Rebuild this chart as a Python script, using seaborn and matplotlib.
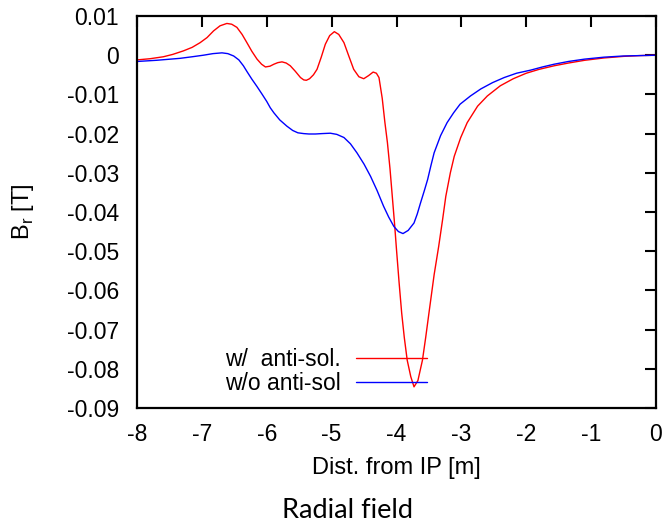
import matplotlib
matplotlib.use("Agg")
import matplotlib.pyplot as plt
import seaborn as sns
import pandas as pd

# ---- data ----
x_red = [-8.0, -7.8, -7.594, -7.45, -7.285, -7.15, -7.027, -6.92, -6.82, -6.72,
         -6.615, -6.54, -6.46, -6.38, -6.306, -6.23, -6.15, -6.08, -6.02, -5.95,
         -5.89, -5.83, -5.765, -5.70, -5.637, -5.56, -5.48, -5.43, -5.39, -5.34,
         -5.28, -5.225, -5.16, -5.097, -5.03, -4.958, -4.89, -4.81, -4.74, -4.66,
         -4.58, -4.505, -4.43, -4.36, -4.31, -4.27, -4.22, -4.18, -4.14, -4.10,
         -4.07, -4.03, -4.00, -3.96, -3.92, -3.88, -3.835, -3.78, -3.73, -3.67,
         -3.60, -3.55, -3.50, -3.42, -3.35, -3.29, -3.24, -3.17, -3.11, -3.01,
         -2.91, -2.75, -2.60, -2.40, -2.20, -2.00, -1.80, -1.57, -1.35, -1.10,
         -0.80, -0.50, -0.25, 0.0]
y_red = [-0.0012, -0.0009, -0.0004, 0.0002, 0.0011, 0.0020, 0.0032, 0.0045, 0.0062,
         0.0075, 0.0081, 0.0079, 0.0071, 0.0053, 0.0032, 0.0010, -0.0010, -0.0023,
         -0.0030, -0.0028, -0.0023, -0.0019, -0.0017, -0.0020, -0.0027, -0.0041,
         -0.0057, -0.0063, -0.0064, -0.0060, -0.0050, -0.0036, -0.0005, 0.0028,
         0.0050, 0.0060, 0.0053, 0.0032, 0.0000, -0.0036, -0.0055, -0.0060, -0.0052,
         -0.0043, -0.0046, -0.0057, -0.0110, -0.0170, -0.0223, -0.0290, -0.0350,
         -0.0430, -0.0496, -0.0580, -0.0658, -0.0720, -0.0778, -0.0820, -0.0846,
         -0.0830, -0.0778, -0.0720, -0.0658, -0.0560, -0.0488, -0.0420, -0.0360,
         -0.0300, -0.0258, -0.0210, -0.0172, -0.0130, -0.0104, -0.0078, -0.0060,
         -0.0046, -0.0036, -0.0027, -0.0020, -0.0013, -0.0007, -0.0003, -0.0001, 0.0]

x_blue = [-8.0, -7.7, -7.336, -7.15, -6.975, -6.83, -6.69, -6.60, -6.51, -6.43,
          -6.36, -6.30, -6.23, -6.15, -6.07, -6.00, -5.946, -5.89, -5.80, -5.69,
          -5.60, -5.52, -5.43, -5.35, -5.25, -5.15, -5.02, -4.92, -4.81, -4.71,
          -4.61, -4.50, -4.40, -4.30, -4.20, -4.12, -4.04, -3.97, -3.90, -3.82,
          -3.73, -3.68, -3.63, -3.57, -3.52, -3.47, -3.42, -3.32, -3.22, -3.12,
          -3.02, -2.86, -2.70, -2.52, -2.34, -2.15, -1.93, -1.75, -1.57, -1.35,
          -1.10, -0.80, -0.50, -0.25, 0.0]
y_blue = [-0.0016, -0.0013, -0.0008, -0.0004, 0.0000, 0.0004, 0.0006, 0.0004,
          -0.0002, -0.0012, -0.0027, -0.0043, -0.0061, -0.0080, -0.0100, -0.0118,
          -0.0134, -0.0147, -0.0165, -0.0181, -0.0192, -0.0198, -0.0200, -0.0201,
          -0.0201, -0.0200, -0.0199, -0.0202, -0.0210, -0.0226, -0.0249, -0.0278,
          -0.0309, -0.0345, -0.0385, -0.0413, -0.0437, -0.0450, -0.0455, -0.0447,
          -0.0428, -0.0405, -0.0377, -0.0345, -0.0317, -0.0282, -0.0249, -0.0205,
          -0.0172, -0.0147, -0.0125, -0.0104, -0.0086, -0.0070, -0.0057, -0.0046,
          -0.0038, -0.0030, -0.0023, -0.0016, -0.0010, -0.0005, -0.0002, -0.0001, 0.0]

labels = ["w/  anti-sol.", "w/o anti-sol"]
x_ticks = [-8, -7, -6, -5, -4, -3, -2, -1, 0]
y_ticks = [0.01, 0, -0.01, -0.02, -0.03, -0.04, -0.05, -0.06, -0.07, -0.08, -0.09]
y_tick_labels = ["0.01", "0", "-0.01", "-0.02", "-0.03", "-0.04", "-0.05",
                 "-0.06", "-0.07", "-0.08", "-0.09"]
x_tick_labels = ["-8", "-7", "-6", "-5", "-4", "-3", "-2", "-1", "0"]

# ---- plotting ----
sns.set_theme(style="white")
plt.rcParams["font.family"] = ["Liberation Sans", "DejaVu Sans"]
plt.rcParams["axes.unicode_minus"] = False
plt.rcParams["text.color"] = "black"
plt.rcParams["axes.labelcolor"] = "black"

fig = plt.figure(figsize=(6.62, 5.24), dpi=100)
ax = fig.add_axes([137 / 662, 1 - 408 / 524, (656 - 137) / 662, (408 - 16) / 524])

df_red = pd.DataFrame({"x": x_red, "y": y_red})
df_blue = pd.DataFrame({"x": x_blue, "y": y_blue})
sns.lineplot(data=df_red, x="x", y="y", ax=ax, color="#ff0000", lw=1.0,
             label=labels[0], estimator=None, sort=False)
sns.lineplot(data=df_blue, x="x", y="y", ax=ax, color="#0000ff", lw=1.0,
             label=labels[1], estimator=None, sort=False)

ax.set_xlim(-8, 0)
ax.set_ylim(-0.09, 0.01)
ax.set_xticks(x_ticks)
ax.set_xticklabels(x_tick_labels)
ax.set_yticks(y_ticks)
ax.set_yticklabels(y_tick_labels)
ax.tick_params(axis="both", direction="in", length=8, width=1.5, top=True, right=True,
               labelsize=16.5, colors="black")
ax.tick_params(axis="y", pad=13)
ax.tick_params(axis="x", pad=11)
for sp in ax.spines.values():
    sp.set_color("black")
    sp.set_linewidth(1.6)

ax.set_xlabel("Dist. from IP [m]", fontsize=17, labelpad=8, color="black")
ax.set_ylabel(r"B$_\mathregular{r}$ [T]", fontsize=17, labelpad=22, color="black")

leg = ax.legend(loc="upper right", bbox_to_anchor=(0.559, 0.153), frameon=False,
                markerfirst=False, fontsize=16.5, handlelength=3.1,
                handletextpad=0.65, labelspacing=0.05, borderpad=0, borderaxespad=0)
for t in leg.get_texts():
    t.set_color("black")

fig.text(348 / 662, 1 - 510 / 524, "Radial field", ha="center", va="center",
         fontsize=19.5, color="black", family=["Lato", "DejaVu Sans"])

fig.savefig("out.png", dpi=100)
